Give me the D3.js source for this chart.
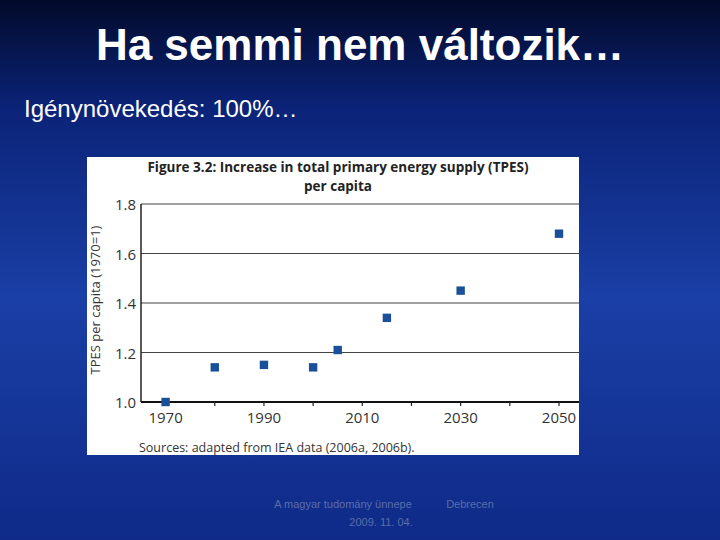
<!DOCTYPE html>
<html><head><meta charset="utf-8">
<script src="https://cdn.jsdelivr.net/npm/d3@7"></script>
<style>body{margin:0;}svg{display:block;}</style>
</head><body>
<script>
const years = [1970, 1980, 1990, 2000, 2005, 2015, 2030, 2050];
const values = [1.0, 1.14, 1.15, 1.14, 1.21, 1.34, 1.45, 1.68];
const yTicks = [1.0, 1.2, 1.4, 1.6, 1.8];
const xTickLabels = [1970, 1990, 2010, 2030, 2050];
const xTickMarks = [1980, 1990, 2000, 2010, 2020, 2030, 2040, 2050];

const svg = d3.select("body").append("svg").attr("width", 720).attr("height", 540);
const defs = svg.append("defs");
const g = defs.append("linearGradient").attr("id","bg").attr("x1",0).attr("y1",0).attr("x2",0).attr("y2",1);
g.append("stop").attr("offset","0").attr("stop-color","#020a2a");
g.append("stop").attr("offset","0.2").attr("stop-color","#0b2378");
g.append("stop").attr("offset","0.55").attr("stop-color","#1a3fa6");
g.append("stop").attr("offset","1").attr("stop-color","#0f2a88");
svg.append("rect").attr("width",720).attr("height",540).attr("fill","url(#bg)");

svg.append("text").attr("x",360).attr("y",60).attr("text-anchor","middle")
  .attr("font-family","Liberation Sans, Arial").attr("font-weight","bold").attr("font-size",44).attr("fill","#fff")
  .text("Ha semmi nem változik…");
svg.append("text").attr("x",24).attr("y",117)
  .attr("font-family","Liberation Sans, Arial").attr("font-size",24).attr("fill","#fff")
  .text("Igénynövekedés: 100%…");

svg.append("rect").attr("x",87).attr("y",157).attr("width",492).attr("height",298).attr("fill","#fff");

const x = d3.scaleLinear().domain([1965, 2050]).range([141, 559]);
const y = d3.scaleLinear().domain([1.0, 1.8]).range([402, 204]);
const font = "Open Sans, DejaVu Sans, sans-serif";

svg.append("text").attr("x",338).attr("y",172).attr("text-anchor","middle").attr("font-family",font)
  .attr("font-weight","bold").attr("font-size",13.5).attr("fill","#222").text("Figure 3.2: Increase in total primary energy supply (TPES)");
svg.append("text").attr("x",338).attr("y",191).attr("text-anchor","middle").attr("font-family",font)
  .attr("font-weight","bold").attr("font-size",13.5).attr("fill","#222").text("per capita");

svg.append("g").selectAll("line").data(yTicks.slice(1)).join("line")
  .attr("x1",141).attr("x2",579).attr("y1",d=>y(d)).attr("y2",d=>y(d)).attr("stroke","#444").attr("stroke-width",1.2);
svg.append("line").attr("x1",141).attr("x2",141).attr("y1",y(1.8)).attr("y2",y(1.0)).attr("stroke","#222").attr("stroke-width",1.5);
svg.append("line").attr("x1",141).attr("x2",579).attr("y1",y(1.0)).attr("y2",y(1.0)).attr("stroke","#111").attr("stroke-width",2);
svg.append("g").selectAll("line").data(xTickMarks).join("line")
  .attr("x1",d=>x(d)).attr("x2",d=>x(d)).attr("y1",402).attr("y2",406).attr("stroke","#222").attr("stroke-width",1.2);

svg.append("g").selectAll("text").data(yTicks).join("text")
  .attr("x",136).attr("y",d=>y(d)+6).attr("text-anchor","end").attr("font-family",font).attr("font-size",15).attr("fill","#333")
  .text(d=>d.toFixed(1));
svg.append("g").selectAll("text").data(xTickLabels).join("text")
  .attr("x",d=>x(d)).attr("y",423).attr("text-anchor","middle").attr("font-family",font).attr("font-size",15).attr("fill","#333")
  .text(d=>d);
svg.append("text").attr("transform","translate(100,300) rotate(-90)").attr("text-anchor","middle")
  .attr("font-family",font).attr("font-size",13).attr("fill","#333").text("TPES per capita (1970=1)");
svg.append("text").attr("x",139).attr("y",452).attr("font-family",font).attr("font-size",12.5).attr("fill","#333")
  .text("Sources: adapted from IEA data (2006a, 2006b).");

svg.append("g").selectAll("path").data(years.map((d,i)=>[d,values[i]])).join("path")
  .attr("d", d3.symbol(d3.symbolDiamond2 || d3.symbolDiamond, 90))
  .attr("transform", d=>`translate(${x(d[0])},${y(d[1])}) rotate(45)`)
  .attr("fill","#1a4f9a");

svg.append("text").attr("x",343).attr("y",508).attr("text-anchor","middle").attr("font-family","Liberation Sans, Arial")
  .attr("font-size",11).attr("fill","#5a6ea8").text("A magyar tudomány ünnepe");
svg.append("text").attr("x",381).attr("y",526).attr("text-anchor","middle").attr("font-family","Liberation Sans, Arial")
  .attr("font-size",11).attr("fill","#5a6ea8").text("2009. 11. 04.");
svg.append("text").attr("x",470).attr("y",508).attr("text-anchor","middle").attr("font-family","Liberation Sans, Arial")
  .attr("font-size",11).attr("fill","#5a6ea8").text("Debrecen");
</script>
</body></html>
